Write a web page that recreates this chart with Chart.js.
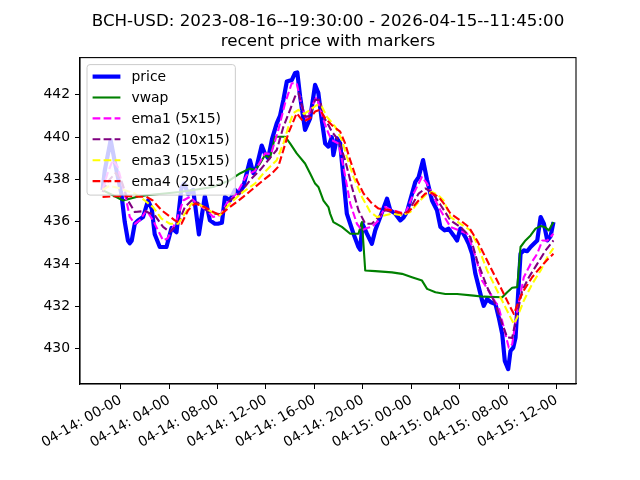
<!DOCTYPE html>
<html>
<head>
<meta charset="utf-8">
<script src="https://cdn.jsdelivr.net/npm/chart.js@4.4.1/dist/chart.umd.min.js"></script>
<style>
    html, body { margin: 0; padding: 0; background: #fff; }
    canvas { display: block; }
</style>
</head>
<body>
<canvas id="chart" width="640" height="480"></canvas>
<script>
const TITLE_LINES = ['BCH-USD: 2023-08-16--19:30:00 - 2026-04-15--11:45:00', 'recent price with markers'];

// x values are hours since 04-14 00:00
const X_TICKS = [0, 4, 8, 12, 16, 20, 24, 28, 32, 36];
const Y_TICKS = [430, 432, 434, 436, 438, 440, 442];

const priceHours = [-1.5, -1.32, -0.83, -0.41, 0.06, 0.33, 0.6, 0.75, 0.91, 1.16, 1.43, 1.85, 2.26, 2.57, 2.81, 3.23, 3.78, 4.2, 4.61, 5.02,
    5.24, 5.57, 5.99, 6.46, 6.95, 7.37, 7.78, 8.03, 8.36, 8.61, 9.02, 9.44, 9.71, 10.12, 10.68, 10.95, 11.23, 11.65, 11.92, 12.19,
    12.5, 12.89, 13.16, 13.44, 13.72, 14.13, 14.4, 14.59, 14.82, 15.23, 15.65, 16.06, 16.33, 16.61, 16.89, 17.16, 17.44, 17.57, 17.86, 18.13,
    18.68, 19.23, 19.64, 19.78, 19.97, 20.34, 20.75, 21.03, 21.44, 22.0, 22.27, 22.68, 23.1, 23.37, 23.65, 24.34, 24.61, 24.98, 25.31, 25.72,
    26.13, 26.41, 26.76, 27.09, 27.5, 27.79, 28.06, 28.48, 28.75, 29.03, 29.3, 29.58, 29.86, 29.99, 30.27, 30.55, 30.96, 31.23, 31.52, 31.73,
    32.01, 32.2, 32.43, 32.62, 33.03, 33.3, 33.58, 33.86, 34.13, 34.41, 34.69, 34.96, 35.24, 35.51, 35.75];
const priceValues = [437.5, 438.4, 439.86, 438.6, 437.3, 436.0, 435.1, 434.98, 435.1, 435.9, 436.06, 436.22, 437.0, 436.6, 435.4, 434.8, 434.8, 435.7, 435.5, 437.6,
    437.8, 437.3, 437.5, 435.4, 437.2, 436.06, 435.9, 435.9, 435.95, 437.17, 437.0, 437.5, 437.33, 437.64, 438.9, 438.3, 438.6, 439.6, 439.2, 439.0,
    439.9, 440.65, 441.0, 441.76, 442.63, 442.7, 443.03, 443.06, 441.92, 440.34, 440.89, 442.47, 442.08, 440.81, 439.7, 439.55, 440.0, 439.15, 439.94, 439.7,
    436.38, 435.43, 434.8, 434.67, 435.9, 435.43, 434.95, 435.59, 436.22, 437.09, 436.54, 436.38, 436.06, 436.2, 436.46, 437.88, 438.1, 438.91, 437.96, 437.0,
    436.54, 435.75, 435.59, 435.67, 435.35, 435.11, 435.67, 435.27, 434.95, 434.48, 433.53, 432.9, 432.26, 432.02, 432.34, 432.2, 432.1, 431.47, 430.68, 429.41,
    429.02, 429.88, 430.04, 430.52, 434.48, 434.64, 434.6, 434.8, 434.95, 435.11, 436.22, 435.9, 435.11, 435.3, 435.98];

const vwapHours = [-1.5, -0.64, 0.19, 1.3, 2.13, 4.88, 7.64, 9.02, 9.85, 10.68, 11.09, 11.51, 11.92, 12.33, 12.75, 13.58, 13.99, 14.54, 15.23, 15.65,
    16.06, 16.33, 16.75, 17.16, 17.3, 17.57, 18.27, 18.96, 19.64, 19.93, 20.2, 21.03, 22.41, 23.24, 24.06, 24.89, 25.31, 26.0, 26.82, 27.79,
    29.16, 29.99, 31.52, 31.93, 32.34, 32.76, 33.03, 33.44, 33.86, 34.27, 34.69, 35.02, 35.37, 35.75];
const vwapValues = [437.49, 437.25, 437.0, 437.17, 437.25, 437.4, 437.64, 437.96, 438.28, 438.52, 438.44, 438.75, 439.15, 439.0, 440.02, 440.02, 439.7, 439.23, 438.75, 438.28,
    437.8, 437.64, 437.0, 436.69, 436.38, 435.98, 435.75, 435.43, 435.43, 435.98, 433.69, 433.66, 433.6, 433.53, 433.37, 433.21, 432.82, 432.66, 432.58, 432.58,
    432.5, 432.45, 432.42, 432.66, 432.87, 432.9, 434.8, 435.11, 435.35, 435.67, 435.79, 435.75, 435.59, 435.98];

const ema1Hours = [-1.5, -1.08, -0.66, -0.25, 0.47, 0.75, 1.16, 1.57, 2.13, 2.67, 3.5, 3.87, 4.61, 5.16, 5.71, 6.27, 7.09, 7.64, 8.2, 8.75,
    9.58, 10.41, 11.09, 11.92, 12.42, 13.02, 13.58, 14.13, 14.54, 14.96, 15.37, 15.92, 16.2, 16.75, 17.16, 17.44, 17.99, 18.4, 18.96, 19.51,
    19.93, 20.34, 20.75, 21.3, 21.85, 22.41, 23.51, 24.2, 24.89, 25.31, 25.83, 26.41, 27.24, 27.92, 28.62, 29.16, 29.86, 30.55, 31.23, 31.65,
    32.06, 32.34, 32.76, 33.3, 33.86, 34.41, 34.83, 35.24, 35.75];
const ema1Values = [437.5, 438.3, 438.9, 438.6, 437.0, 436.22, 435.9, 436.06, 436.54, 436.06, 435.11, 435.2, 436.06, 437.0, 437.17, 436.86, 436.54, 436.22, 436.3, 436.86,
    437.33, 438.2, 438.4, 439.23, 439.2, 440.34, 441.6, 442.55, 442.55, 441.45, 440.81, 441.6, 441.92, 440.81, 440.18, 439.86, 439.7, 438.6, 436.86, 435.9,
    435.59, 435.7, 435.75, 436.06, 436.7, 436.54, 436.38, 437.33, 438.12, 437.8, 437.2, 436.54, 435.75, 435.59, 435.43, 434.64, 433.21, 432.58, 431.94, 430.99,
    430.04, 430.2, 431.79, 433.37, 434.0, 434.48, 435.11, 435.1, 435.43];

const ema2Hours = [-1.5, -0.91, -0.41, 0.08, 0.6, 1.16, 1.99, 2.81, 3.5, 4.06, 4.74, 5.3, 5.85, 6.37, 7.09, 7.78, 8.36, 9.02, 9.85, 10.68,
    11.51, 12.19, 12.89, 13.44, 13.99, 14.4, 14.68, 15.23, 15.65, 16.06, 16.47, 16.75, 17.16, 17.44, 17.99, 18.54, 19.1, 19.64, 20.2, 20.75,
    21.3, 21.85, 22.41, 23.24, 23.78, 24.61, 25.17, 25.72, 26.41, 27.24, 28.06, 28.89, 29.44, 30.27, 30.96, 31.52, 31.93, 32.34, 32.62, 33.17,
    33.72, 34.41, 35.1, 35.75];
const ema2Values = [437.4, 438.0, 438.3, 437.9, 437.0, 436.46, 436.5, 436.3, 435.75, 435.51, 435.9, 436.69, 437.0, 436.9, 436.54, 436.38, 436.35, 437.0, 437.33, 437.96,
    438.44, 438.91, 439.39, 440.49, 441.29, 441.92, 442.08, 440.97, 441.0, 441.76, 441.76, 440.97, 440.57, 440.26, 439.86, 438.91, 437.64, 436.54, 435.9, 435.9,
    436.22, 436.54, 436.46, 436.3, 436.5, 437.33, 437.57, 437.4, 436.8, 436.06, 435.75, 435.27, 434.16, 432.9, 432.1, 431.16, 430.52, 430.5, 431.31, 432.74,
    433.37, 434.0, 434.64, 435.11];

const ema3Hours = [-1.5, -0.91, -0.25, 0.33, 1.16, 1.99, 2.67, 3.37, 4.06, 4.74, 5.3, 5.85, 6.54, 7.51, 8.2, 9.02, 10.12, 11.09, 11.78, 12.33,
    12.89, 13.44, 13.85, 14.26, 14.68, 15.15, 15.65, 16.2, 16.61, 17.02, 17.72, 18.27, 18.68, 19.23, 19.93, 20.61, 21.17, 21.85, 22.41, 23.24,
    23.92, 24.61, 25.17, 25.72, 26.24, 26.68, 27.24, 28.06, 28.89, 29.44, 30.27, 30.96, 31.65, 32.2, 32.48, 32.76, 33.3, 33.99, 34.69, 35.24,
    35.75];
const ema3Values = [437.5, 437.7, 437.6, 437.49, 437.33, 437.0, 436.69, 436.14, 435.9, 435.9, 436.38, 436.86, 436.8, 436.46, 436.3, 436.86, 437.41, 437.8, 438.28, 438.6,
    438.91, 439.7, 440.49, 441.13, 441.29, 441.1, 441.29, 441.52, 441.45, 440.97, 440.49, 439.86, 439.07, 438.12, 437.17, 436.46, 436.22, 436.3, 436.38, 436.3,
    436.45, 436.93, 437.25, 437.41, 437.25, 437.0, 436.22, 435.9, 435.59, 434.95, 433.69, 432.9, 432.1, 431.47, 431.16, 431.47, 432.26, 433.05, 433.69, 434.32,
    434.75];

const ema4Hours = [-1.5, -0.5, 0.75, 2.13, 2.65, 3.37, 4.47, 5.02, 5.57, 6.13, 6.95, 7.64, 8.2, 9.02, 10.12, 11.78, 12.48, 13.02, 13.44, 13.85,
    14.54, 15.09, 15.65, 16.06, 16.47, 16.89, 17.44, 18.13, 18.54, 18.96, 19.51, 20.06, 20.75, 21.3, 22.41, 23.24, 23.78, 24.61, 25.17, 25.72,
    26.27, 26.82, 27.24, 28.06, 28.75, 29.44, 30.27, 30.96, 31.65, 32.2, 32.48, 32.89, 33.3, 33.99, 34.69, 35.24, 35.75];
const ema4Values = [437.17, 437.2, 437.2, 437.17, 437.0, 436.54, 436.06, 435.9, 436.54, 436.86, 436.69, 436.46, 436.3, 436.69, 437.17, 437.96, 438.28, 438.6, 439.39, 440.18,
    441.13, 440.73, 440.89, 441.21, 441.29, 440.89, 440.57, 440.26, 439.7, 438.91, 437.96, 437.33, 436.86, 436.62, 436.54, 436.38, 436.46, 437.0, 437.33, 437.35,
    437.17, 436.77, 436.38, 436.06, 435.75, 435.11, 434.16, 433.37, 432.58, 431.94, 431.63, 432.26, 432.74, 433.37, 433.85, 434.2, 434.48];

const FONT = '"DejaVu Sans", sans-serif';
const DASH = [7.7, 3.3];

const SERIES = [
    { label: 'price', hours: priceHours, values: priceValues, color: '#0000ff', width: 4.2, dash: [] },
    { label: 'vwap', hours: vwapHours, values: vwapValues, color: '#008000', width: 2.1, dash: [] },
    { label: 'ema1 (5x15)', hours: ema1Hours, values: ema1Values, color: '#ff00ff', width: 2.1, dash: DASH },
    { label: 'ema2 (10x15)', hours: ema2Hours, values: ema2Values, color: '#800080', width: 2.1, dash: DASH },
    { label: 'ema3 (15x15)', hours: ema3Hours, values: ema3Values, color: '#ffff00', width: 2.1, dash: DASH },
    { label: 'ema4 (20x15)', hours: ema4Hours, values: ema4Values, color: '#ff0000', width: 2.1, dash: DASH },
];

// matplotlib style 5% margins around the data
function paddedRange(values) {
    const lo = Math.min(...values);
    const hi = Math.max(...values);
    const pad = (hi - lo) * 0.05;
    return [lo - pad, hi + pad];
}

const [xMin, xMax] = paddedRange(SERIES.flatMap((s) => s.hours));
const [yMin, yMax] = paddedRange(SERIES.flatMap((s) => s.values));

function hourLabel(h) {
    const day = 14 + Math.floor(h / 24);
    const hour = String(h % 24).padStart(2, '0');
    return `04-${day}: ${hour}-00`;
}

const titlePlugin = {
    id: 'mplTitle',
    afterDraw(chart) {
        const ctx = chart.ctx;
        const area = chart.chartArea;
        const cx = (area.left + area.right) / 2;
        ctx.save();
        ctx.fillStyle = '#000';
        ctx.font = `16.7px ${FONT}`;
        ctx.textAlign = 'center';
        ctx.textBaseline = 'alphabetic';
        ctx.fillText(TITLE_LINES[0], cx, 26);
        ctx.fillText(TITLE_LINES[1], cx, 46);
        ctx.restore();
    },
};

const framePlugin = {
    id: 'mplFrame',
    afterDatasetsDraw(chart) {
        const ctx = chart.ctx;
        const a = chart.chartArea;
        ctx.save();
        ctx.strokeStyle = '#000';
        ctx.lineWidth = 1.1;
        ctx.strokeRect(a.left, a.top, a.right - a.left, a.bottom - a.top);
        ctx.restore();
    },
};

const legendPlugin = {
    id: 'mplLegend',
    afterDraw(chart) {
        const ctx = chart.ctx;
        const area = chart.chartArea;
        ctx.save();
        ctx.font = `13.9px ${FONT}`;
        const textW = Math.max(...SERIES.map((s) => ctx.measureText(s.label).width));
        const x0 = area.left + 7;
        const y0 = area.top + 7;
        const rowH = 20.9;
        const w = 5.6 + 27.8 + 11.1 + textW + 5.6;
        const h = 2 * 12 + rowH * (SERIES.length - 1) + 2;

        ctx.beginPath();
        ctx.roundRect(x0, y0, w, h, 3);
        ctx.fillStyle = 'rgba(255,255,255,0.8)';
        ctx.fill();
        ctx.strokeStyle = '#cccccc';
        ctx.lineWidth = 1;
        ctx.stroke();

        SERIES.forEach((s, i) => {
            const y = y0 + 12 + i * rowH;
            ctx.beginPath();
            ctx.setLineDash(s.dash);
            ctx.strokeStyle = s.color;
            ctx.lineWidth = s.width;
            ctx.moveTo(x0 + 5.6, y);
            ctx.lineTo(x0 + 5.6 + 27.8, y);
            ctx.stroke();
            ctx.setLineDash([]);
            ctx.fillStyle = '#000';
            ctx.textBaseline = 'middle';
            ctx.fillText(s.label, x0 + 5.6 + 27.8 + 11.1, y + 1);
        });
        ctx.restore();
    },
};

const datasets = SERIES.map((s, i) => ({
    label: s.label,
    data: s.hours.map((h, j) => ({ x: h, y: s.values[j] })),
    borderColor: s.color,
    borderWidth: s.width,
    borderDash: s.dash,
    borderJoinStyle: 'round',
    pointRadius: 0,
    tension: 0,
    fill: false,
    order: SERIES.length - i,
}));

new Chart(document.getElementById('chart'), {
    type: 'line',
    data: { datasets },
    options: {
        responsive: false,
        animation: false,
        devicePixelRatio: 1,
        layout: { padding: { left: 0, top: 57.6, right: 64, bottom: 0 } },
        plugins: { legend: { display: false }, title: { display: false }, tooltip: { enabled: false } },
        scales: {
            x: {
                type: 'linear',
                min: xMin,
                max: xMax,
                afterBuildTicks: (scale) => { scale.ticks = X_TICKS.map((v) => ({ value: v })); },
                afterFit: (scale) => { scale.height = 96; },
                grid: { display: true, drawOnChartArea: false, drawTicks: true, tickLength: 5, color: '#000' },
                border: { display: true, color: '#000', width: 1.1 },
                ticks: {
                    autoSkip: false,
                    minRotation: 30,
                    maxRotation: 30,
                    padding: 3,
                    color: '#000',
                    font: { family: FONT, size: 13.9 },
                    callback: (v) => hourLabel(v),
                },
            },
            y: {
                type: 'linear',
                min: yMin,
                max: yMax,
                afterBuildTicks: (scale) => { scale.ticks = Y_TICKS.map((v) => ({ value: v })); },
                afterFit: (scale) => { scale.width = 80; },
                grid: { display: true, drawOnChartArea: false, drawTicks: true, tickLength: 5, color: '#000' },
                border: { display: true, color: '#000', width: 1.1 },
                ticks: {
                    padding: 5,
                    color: '#000',
                    font: { family: FONT, size: 13.9 },
                    callback: (v) => String(v),
                },
            },
        },
    },
    plugins: [framePlugin, titlePlugin, legendPlugin],
});
</script>
</body>
</html>
